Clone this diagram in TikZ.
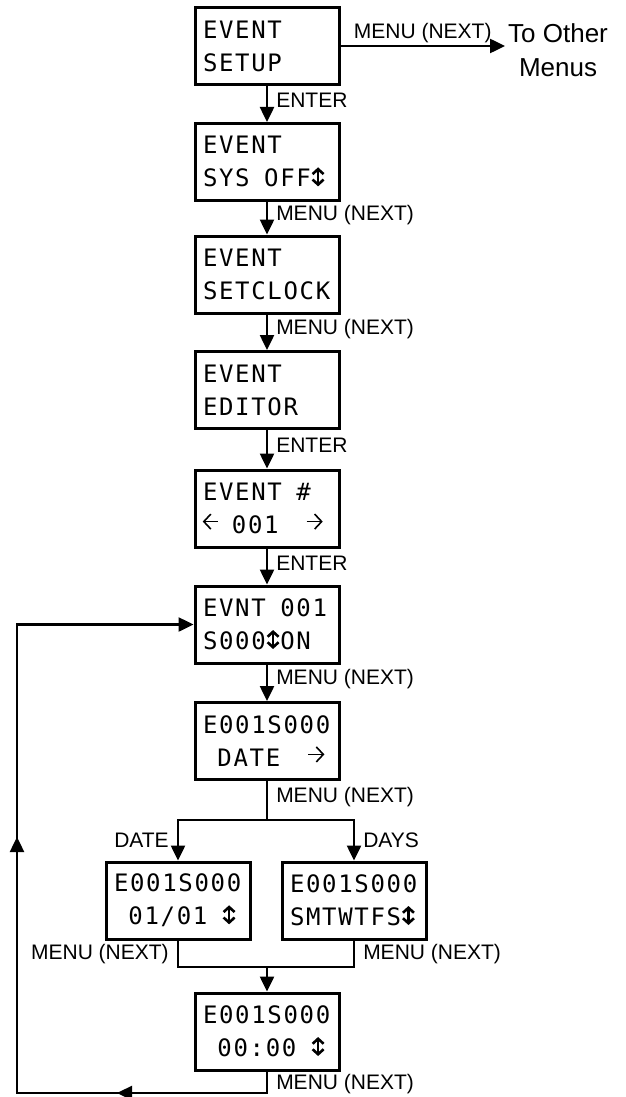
\documentclass[tikz,border=0pt]{standalone}
\usepackage{fontspec}
\setmainfont{Liberation Sans}
\newfontfamily\lcdfont[LetterSpace=7]{DejaVu Sans Mono}
\usetikzlibrary{arrows.meta}
\newsavebox\digitbox
\newcommand\blank{\hphantom{0}}
\newcommand\lcdchar[1]{\sbox\digitbox{0}\makebox[\wd\digitbox]{#1}}
\newcommand\updn{\lcdchar{\tikz[baseline=0pt,x=1pt,y=1pt]
  \draw[line width=2.6pt,{Straight Barb[length=5pt,width=11pt]}-{Straight Barb[length=5pt,width=11pt]}] (0,0.5) -- (0,19.5);}}
\newcommand\lft{\lcdchar{\tikz[baseline=0pt,x=1pt,y=1pt]
  \draw[line width=1.6pt,-{Straight Barb[length=7pt,width=15pt]}] (15,12) -- (0,12);}}
\newcommand\rgt{\lcdchar{\tikz[baseline=0pt,x=1pt,y=1pt]
  \draw[line width=1.6pt,-{Straight Barb[length=7pt,width=15pt]}] (0,12) -- (16,12);}}

\begin{document}
\begin{tikzpicture}[x=1pt,y=-1pt,
    box/.style={draw,line width=3pt,minimum width=144pt,minimum height=77pt,
      text width=128pt,align=left,inner xsep=8pt,
      font=\lcdfont\fontsize{24}{33}\selectfont},
    line/.style={line width=2.5pt},
    flow/.style={line,-{Triangle[length=15pt,width=14pt]}},
    lbl/.style={font=\fontsize{21}{24}\selectfont,inner xsep=8pt,inner ysep=2pt}]

    \useasboundingbox (0,0) rectangle (626,1097);

    % display screens
    \node[box] (setup) at (267,46) {EVENT\\SETUP};
    \node[box] (sysoff) at (267,162) {EVENT\\SYS\blank OFF\updn};
    \node[box] (setclock) at (267,274.5) {EVENT\\SETCLOCK};
    \node[box] (editor) at (267,390) {EVENT\\EDITOR};
    \node[box] (evnum) at (267,508.5) {EVENT\blank\#\\\lft\blank 001\blank\blank\rgt};
    \node[box] (evnt) at (267,624.5) {EVNT\blank 001\\S000\updn ON};
    \node[box] (date) at (267,741) {E001S000\\\blank DATE\blank\blank\rgt};
    \node[box] (dateval) at (178,900.5) {E001S000\\\blank 01/01\blank\updn};
    \node[box] (days) at (354,900.5) {E001S000\\SMTWTFS\updn};
    \node[box] (time) at (267,1031.5) {E001S000\\\blank 00:00\blank\updn};
    \node[font=\fontsize{26}{34}\selectfont,align=center,anchor=west,inner sep=3pt]
      (other) at (505,50) {To Other\\Menus};

    \coordinate (split) at (267,820);
    \coordinate (merge) at (267,967);
    \coordinate (c1) at (267,1093);
    \coordinate (c2) at (17,1093);
    \coordinate (c3) at (17,624.5);
    \coordinate (m1) at (117,1093);
    \coordinate (m2) at (17,837);

    % main column
    \draw[flow] (setup.east) -- node[lbl,above]{MENU (NEXT)} (setup.east -| other.west);
    \draw[flow] (setup) -- node[lbl,right,pos=0.4]{ENTER} (sysoff);
    \draw[flow] (sysoff) -- node[lbl,right,pos=0.4]{MENU (NEXT)} (setclock);
    \draw[flow] (setclock) -- node[lbl,right,pos=0.4]{MENU (NEXT)} (editor);
    \draw[flow] (editor) -- node[lbl,right,pos=0.4]{ENTER} (evnum);
    \draw[flow] (evnum) -- node[lbl,right,pos=0.4]{ENTER} (evnt);
    \draw[flow] (evnt) -- node[lbl,right,pos=0.4]{MENU (NEXT)} (date);

    % date / days branch
    \draw[line] (date) -- node[lbl,right,pos=0.4]{MENU (NEXT)} (split);
    \draw[flow] (split) -| node[lbl,left,pos=0.75]{DATE} (dateval);
    \draw[flow] (split) -| node[lbl,right,pos=0.75]{DAYS} (days);
    \draw[line] (dateval) |- node[lbl,left,pos=0.25]{MENU (NEXT)} (merge);
    \draw[line] (days) |- node[lbl,right,pos=0.25]{MENU (NEXT)} (merge);
    \draw[flow] (merge) -- (time);

    % back to the event screen
    \draw[flow] (time) -- node[lbl,right,pos=0.6]{MENU (NEXT)} (c1) -- (c2) -- (c3) -- (evnt);
    \draw[flow] (c1) -- (m1);
    \draw[flow] (c2) -- (m2);

\end{tikzpicture}
\end{document}
